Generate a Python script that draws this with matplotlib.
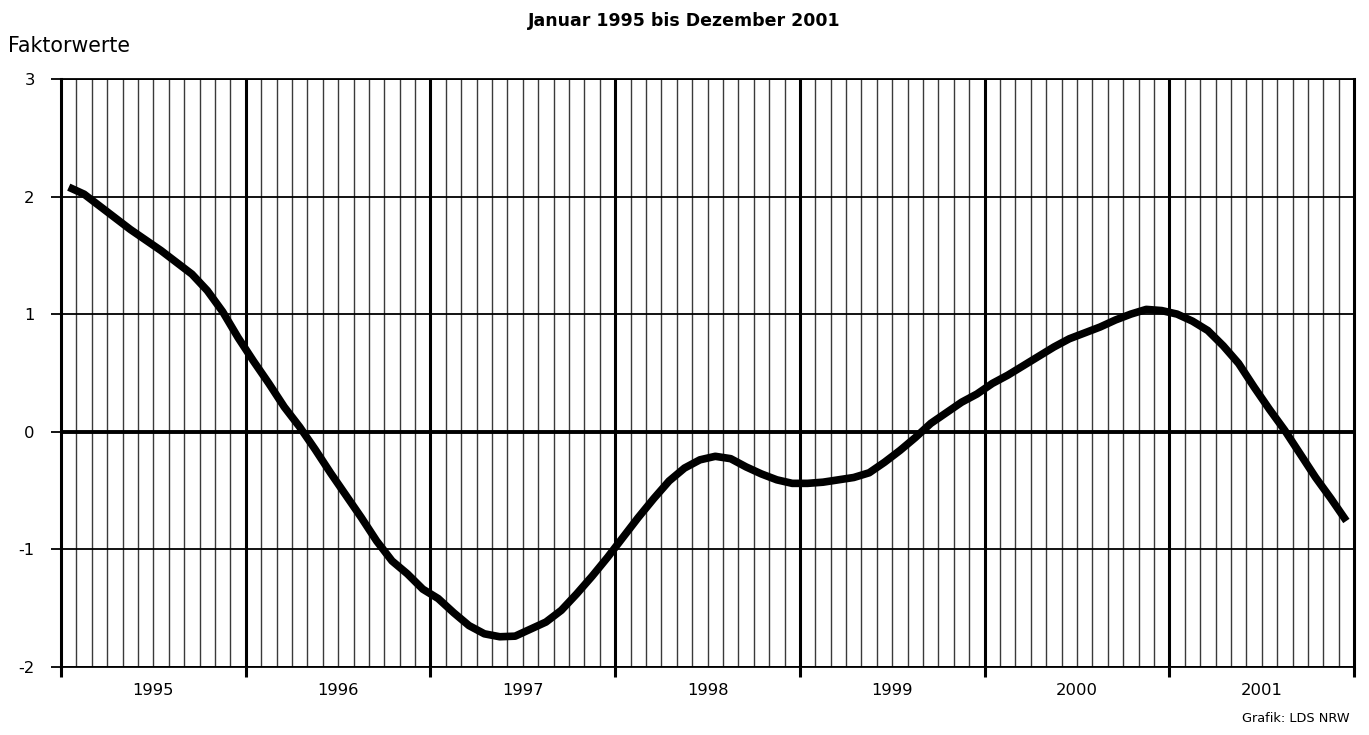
import matplotlib
matplotlib.use("Agg")
import matplotlib.pyplot as plt
import matplotlib.transforms as mtransforms
import numpy as np

# Faktorwerte, monthly, Jan 1995 .. Dec 2001
values = [
    2.08, 2.02, 1.92, 1.82, 1.72, 1.63, 1.54, 1.44, 1.34, 1.20, 1.02, 0.80,   # 1995
    0.60, 0.41, 0.21, 0.04, -0.15, -0.35, -0.54, -0.73, -0.93, -1.10, -1.21, -1.34,  # 1996
    -1.42, -1.54, -1.65, -1.72, -1.745, -1.74, -1.68, -1.62, -1.52, -1.38, -1.23, -1.07,  # 1997
    -0.90, -0.73, -0.57, -0.42, -0.31, -0.24, -0.21, -0.23, -0.30, -0.36, -0.41, -0.44,  # 1998
    -0.44, -0.43, -0.41, -0.39, -0.35, -0.26, -0.16, -0.05, 0.07, 0.16, 0.25, 0.32,  # 1999
    0.41, 0.48, 0.56, 0.64, 0.72, 0.79, 0.84, 0.89, 0.95, 1.00, 1.04, 1.03,  # 2000
    1.00, 0.94, 0.86, 0.73, 0.58, 0.38, 0.19, 0.01, -0.19, -0.39, -0.57, -0.76,  # 2001
]
years = ['1995', '1996', '1997', '1998', '1999', '2000', '2001']
yticks = [-2, -1, 0, 1, 2, 3]

plt.rcParams['font.family'] = ['DejaVu Sans']

fig = plt.figure(figsize=(13.69, 7.35), dpi=100)
ax = fig.add_axes([0.0446, 0.0929, 0.9445, 0.7996])

months = np.arange(len(values)) + 0.5

# grid: monthly thin lines, yearly thick lines
for m in range(1, len(values)):
    if m % 12 == 0:
        ax.axvline(m, color='black', lw=2.2, zorder=1)
    else:
        ax.axvline(m, color='#3a3a3a', lw=1.0, zorder=1)
for v in yticks:
    ax.axhline(v, color='black', lw=1.3, zorder=1)
ax.axhline(0, color='black', lw=2.8, zorder=2)

ax.plot(months, values, color='black', lw=5.5, solid_capstyle='butt',
        solid_joinstyle='round', zorder=3)

ax.set_xlim(0, len(values))
ax.set_ylim(-2, 3)

ax.set_yticks(yticks)
ax.set_yticklabels([str(v) for v in yticks], fontsize=11.8)
ax.tick_params(axis='y', length=7, width=1.3, pad=12)

ax.set_xticks(range(0, len(values) + 1, 12))
ax.set_xticklabels([])
ax.tick_params(axis='x', length=7, width=2.2)

trans = mtransforms.blended_transform_factory(ax.transData, ax.transAxes)
for k, yr in enumerate(years):
    ax.text(6 + 12 * k, -0.04, yr, transform=trans, ha='center', va='center', fontsize=11.8)

for side in ['left', 'right']:
    ax.spines[side].set_linewidth(2.2)
ax.spines['top'].set_linewidth(1.3)
ax.spines['bottom'].set_linewidth(1.3)

fig.text(0.5, 0.972, 'Januar 1995 bis Dezember 2001', ha='center', va='center',
         fontsize=12.5, fontweight='bold')
fig.text(0.006, 0.937, 'Faktorwerte', ha='left', va='center', fontsize=14.8)
fig.text(0.986, 0.023, 'Grafik: LDS NRW', ha='right', va='center', fontsize=9.3)

fig.savefig('out.png', dpi=100)
